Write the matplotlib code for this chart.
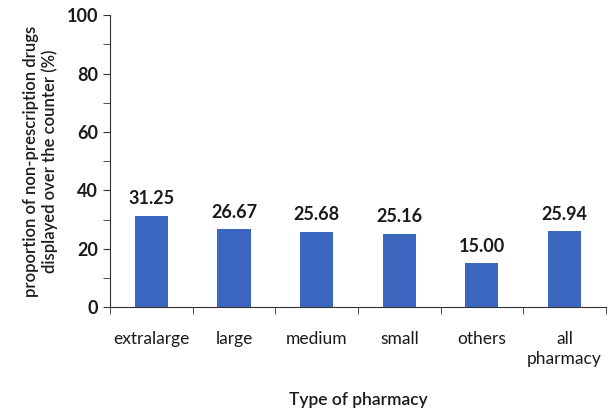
import matplotlib
matplotlib.use('Agg')
import matplotlib.pyplot as plt
import numpy as np

categories = ['extralarge', 'large', 'medium', 'small', 'others', 'all\npharmacy']
values = [31.25, 26.67, 25.68, 25.16, 15.00, 25.94]
yticks = [0, 20, 40, 60, 80, 100]

plt.rcParams['font.family'] = ['Lato', 'DejaVu Sans']

fig = plt.figure(figsize=(6.15, 4.09), dpi=100)
ax = fig.add_axes([0.179, 0.249, 0.806, 0.714])

x = np.arange(len(categories))
ax.bar(x, values, width=0.4, color='#3b67c0')
for xi, v in zip(x, values):
    ax.text(xi, v + 3, '%.2f' % v, ha='center', va='bottom', fontsize=13, fontweight='bold', color='#1a1a1a')

ax.set_xlim(-0.5, len(categories) - 0.5)
ax.set_ylim(0, 100)
ax.set_yticks(yticks)
ax.set_yticklabels([str(t) for t in yticks], fontsize=13, fontweight='bold', color='#1a1a1a')
ax.set_yticks(np.arange(10, 100, 20), minor=True)
ax.set_xticks(x)
ax.set_xticklabels(categories, fontsize=12.5, color='#1a1a1a', linespacing=1.3)
ax.set_xticks(np.arange(-0.5, len(categories), 1), minor=True)
ax.tick_params(axis='x', which='major', length=0, pad=17)
ax.tick_params(axis='x', which='minor', length=5, direction='out', color='#333333')
ax.tick_params(axis='y', which='both', length=5, direction='out', color='#333333')

for s in ['top', 'right']:
    ax.spines[s].set_visible(False)
for s in ['left', 'bottom']:
    ax.spines[s].set_color('#333333')

ax.set_ylabel('proportion of non-prescription drugs\ndisplayed over the counter (%)', fontsize=12, fontweight='semibold', labelpad=6, color='#1a1a1a')
ax.set_xlabel('Type of pharmacy', fontsize=12.5, fontweight='semibold', labelpad=18, color='#1a1a1a')

fig.savefig('out.png', dpi=100)
